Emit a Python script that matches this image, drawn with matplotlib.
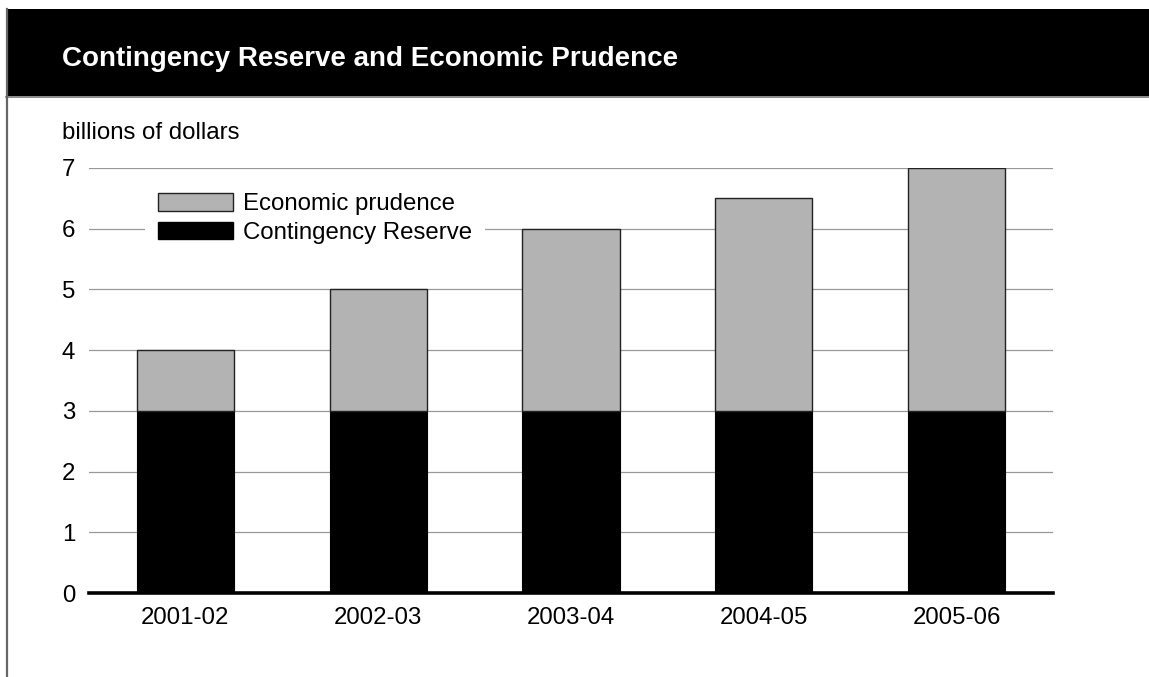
import matplotlib
matplotlib.use("Agg")
import matplotlib.pyplot as plt
from matplotlib.patches import Rectangle, Patch
from matplotlib.lines import Line2D

years = ["2001-02", "2002-03", "2003-04", "2004-05", "2005-06"]
contingency = [3, 3, 3, 3, 3]
prudence = [1, 2, 3, 3.5, 4]
yticks = [0, 1, 2, 3, 4, 5, 6, 7]

plt.rcParams['font.family'] = ['Liberation Sans', 'DejaVu Sans']

W, H = 1149, 677
FS = 17.3
fig = plt.figure(figsize=(W / 100, H / 100), dpi=100)

# header band
fig.patches.append(Rectangle((6 / W, 1 - 96 / H), 1 - 6 / W, 87 / H,
                             transform=fig.transFigure, facecolor='black',
                             edgecolor='none', zorder=0))
fig.lines.append(Line2D([6 / W, 1], [1 - 96.5 / H, 1 - 96.5 / H],
                        transform=fig.transFigure, color='#777777', lw=1.2))
fig.lines.append(Line2D([7 / W, 7 / W], [0, 1 - 9 / H],
                        transform=fig.transFigure, color='#666666', lw=1.6))
fig.text(62 / W, 1 - 59 / H, "Contingency Reserve and Economic Prudence",
         color='white', fontsize=20, fontweight='bold', va='center', ha='left',
         family=['Liberation Sans Narrow', 'Liberation Sans', 'DejaVu Sans'])
fig.text(62 / W, 1 - 133 / H, "billions of dollars", fontsize=FS,
         va='center', ha='left')

ax = fig.add_axes([89 / W, 84 / H, (1053 - 89) / W, (593 - 168) / H])
x = list(range(len(years)))
ax.bar(x, contingency, width=0.505, color='black', edgecolor='black',
       linewidth=0.8, zorder=2)
ax.bar(x, prudence, bottom=contingency, width=0.505, color='#b3b3b3',
       edgecolor='#222222', linewidth=1.0, zorder=2)

ax.set_xlim(-0.5, 4.5)
ax.set_ylim(0, 7)
ax.set_yticks(yticks)
ax.set_yticklabels([str(v) for v in yticks])
ax.set_xticks(x)
ax.set_xticklabels(years)
ax.tick_params(axis='both', length=0, labelsize=FS)
ax.tick_params(axis='y', pad=10)
ax.tick_params(axis='x', pad=10)
for s in ax.spines.values():
    s.set_visible(False)
ax.grid(axis='y', color='#999999', linewidth=0.9, zorder=0)
ax.set_axisbelow(True)
ax.axhline(0, color='black', linewidth=2.6, zorder=3, clip_on=False)

handles = [Patch(facecolor='#b3b3b3', edgecolor='#222222', linewidth=1.0),
           Patch(facecolor='black', edgecolor='black')]
leg = ax.legend(handles, ["Economic prudence", "Contingency Reserve"],
                loc='upper left', bbox_to_anchor=(145 / W, 1 - 180 / H),
                bbox_transform=fig.transFigure, borderaxespad=0,
                fontsize=FS, frameon=True, fancybox=False,
                handlelength=3.1, handleheight=0.74, handletextpad=0.42,
                labelspacing=0.28, borderpad=0.55)
leg.get_frame().set_facecolor('white')
leg.get_frame().set_edgecolor('none')
leg.get_frame().set_alpha(1)

fig.savefig("out.png", dpi=100)
